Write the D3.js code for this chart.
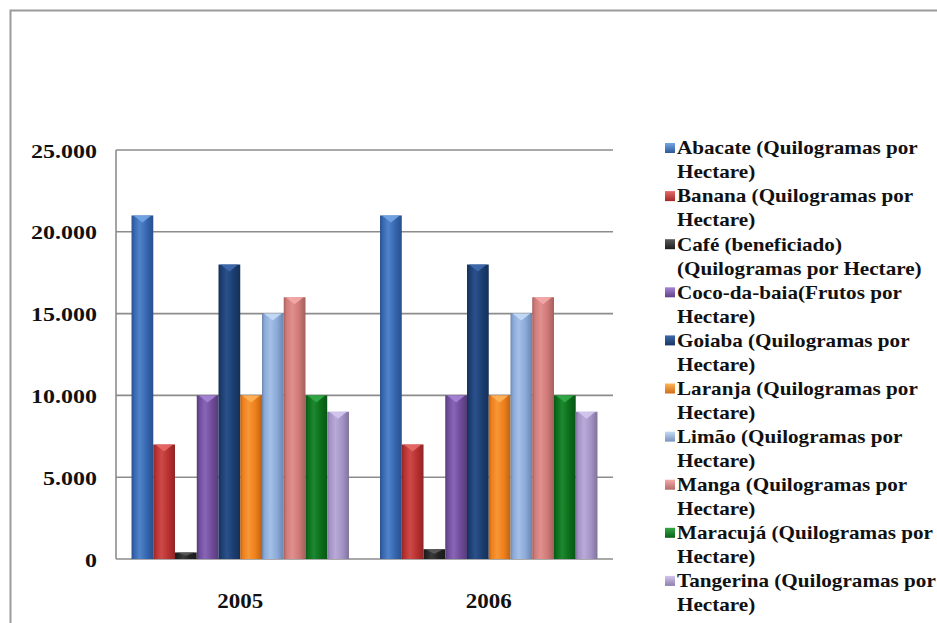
<!DOCTYPE html>
<html>
<head>
<meta charset="utf-8">
<script src="https://cdn.jsdelivr.net/npm/d3@7"></script>
<style>
  body { margin: 0; background: #fff; }
  svg { display: block; }
  text { font-family: "Liberation Serif", "Times New Roman", Times, serif; font-weight: bold; fill: #111; }
</style>
</head>
<body>
<svg id="chart"></svg>
<script>
// data
const years = ["2005", "2006"];
const series = ["Abacate", "Banana", "Café", "Coco-da-baia", "Goiaba", "Laranja", "Limão", "Manga", "Maracujá", "Tangerina"];
const values2005 = [21000, 7000, 400, 10000, 18000, 10000, 15000, 16000, 10000, 9000];
const values2006 = [21000, 7000, 600, 10000, 18000, 10000, 15000, 16000, 10000, 9000];
const yTicks = [0, 5000, 10000, 15000, 20000, 25000];
const legendLines = [
  ["Abacate (Quilogramas por", "Hectare)"],
  ["Banana (Quilogramas por", "Hectare)"],
  ["Café (beneficiado)", "(Quilogramas por Hectare)"],
  ["Coco-da-baia(Frutos por", "Hectare)"],
  ["Goiaba (Quilogramas por", "Hectare)"],
  ["Laranja (Quilogramas por", "Hectare)"],
  ["Limão (Quilogramas por", "Hectare)"],
  ["Manga (Quilogramas por", "Hectare)"],
  ["Maracujá (Quilogramas por", "Hectare)"],
  ["Tangerina (Quilogramas por", "Hectare)"]
];
const baseColors = ["#3566b0", "#b8302f", "#222222", "#6f4c9b", "#1b3d70", "#ef7f1a", "#8aa9d9", "#d07a78", "#0b6e1b", "#a393c6"];
const lightColors = ["#74a6e6", "#e46a68", "#5a5a5a", "#a684d6", "#3f6aae", "#ffb45a", "#c4dbf6", "#f3aaa8", "#34a848", "#d3c6ee"];

const W = 937, H = 623;
const svg = d3.select("#chart").attr("width", W).attr("height", H);

const fmt = d3.formatLocale({ decimal: ",", thousands: ".", grouping: [3], currency: ["R$", ""] }).format(",d");

// squeeze factor so the text width matches the picture
function fitScale(str, size, target) {
  const t = svg.append("text").style("font-size", size + "px").text(str);
  const w = t.node().getComputedTextLength();
  t.remove();
  return target / w;
}

// outer frame
svg.append("rect")
  .attr("x", 10.5).attr("y", 10.5)
  .attr("width", W + 20).attr("height", H + 20)
  .attr("fill", "none").attr("stroke", "#9a9a9a").attr("stroke-width", 2);

const plot = { left: 116, right: 613, top: 150, bottom: 559 };

const x0 = d3.scaleBand().domain(years)
  .range([plot.left, plot.right])
  .paddingInner(0.125).paddingOuter(0.0625);
const x1 = d3.scaleBand().domain(series).range([0, x0.bandwidth()]);
const y = d3.scaleLinear().domain([0, 25000]).range([plot.bottom, plot.top]);

// gradients
const defs = svg.append("defs");
series.forEach((s, i) => {
  const dark = d3.color(baseColors[i]).darker(0.7);
  const g = defs.append("linearGradient").attr("id", "g" + i)
    .attr("x1", "0%").attr("x2", "100%").attr("y1", "0%").attr("y2", "0%");
  g.append("stop").attr("offset", "0%").attr("stop-color", dark);
  g.append("stop").attr("offset", "12%").attr("stop-color", baseColors[i]);
  g.append("stop").attr("offset", "38%").attr("stop-color", d3.interpolateRgb(baseColors[i], lightColors[i])(0.45));
  g.append("stop").attr("offset", "70%").attr("stop-color", baseColors[i]);
  g.append("stop").attr("offset", "100%").attr("stop-color", dark);
});

// gridlines
svg.append("g").selectAll("line").data(yTicks).join("line")
  .attr("x1", plot.left).attr("x2", plot.right)
  .attr("y1", d => y(d)).attr("y2", d => y(d))
  .attr("stroke", "#8c8c8c").attr("stroke-width", 1.6);
svg.append("line")
  .attr("x1", plot.left).attr("x2", plot.left)
  .attr("y1", plot.top).attr("y2", plot.bottom)
  .attr("stroke", "#8c8c8c").attr("stroke-width", 1.6);

// y labels
const ySx = fitScale("25.000", 19, 66);
svg.append("g").selectAll("text").data(yTicks).join("text")
  .attr("transform", d => `translate(97,${y(d) + 1}) scale(${ySx},1)`)
  .attr("text-anchor", "end")
  .attr("dy", "0.35em")
  .style("font-size", "19px")
  .text(d => fmt(d));

// bars
const rows = years.map((yr, k) => ({ year: yr, vals: k === 0 ? values2005 : values2006 }));
const groups = svg.append("g").selectAll("g").data(rows).join("g")
  .attr("transform", d => `translate(${x0(d.year)},0)`);

const bars = groups.selectAll("g.bar")
  .data(d => d.vals.map((v, i) => ({ name: series[i], i, v })))
  .join("g").attr("class", "bar");

bars.append("rect")
  .attr("x", d => x1(d.name))
  .attr("y", d => y(d.v))
  .attr("width", x1.bandwidth())
  .attr("height", d => y(0) - y(d.v))
  .attr("fill", d => `url(#g${d.i})`);

bars.append("path")
  .attr("d", d => {
    const bx = x1(d.name), bw = x1.bandwidth(), t = y(d.v);
    const h = Math.min(7, (y(0) - t) / 2);
    return `M${bx + 2},${t}L${bx + bw - 2},${t}L${bx + bw / 2},${t + h}Z`;
  })
  .attr("fill", d => lightColors[d.i])
  .attr("opacity", 0.9);

// x labels
const xSx = fitScale("2005", 22, 46);
svg.append("g").selectAll("text").data(years).join("text")
  .attr("transform", d => `translate(${x0(d) + x0.bandwidth() / 2},600) scale(${xSx},1)`)
  .attr("dy", "0.35em")
  .attr("text-anchor", "middle")
  .style("font-size", "22px")
  .text(d => d);

// legend
const lineH = 24.05, legTop = 148, swX = 665, txX = 677;
const legSx = fitScale("Abacate (Quilogramas por", 18, 241);
const leg = svg.append("g").selectAll("g").data(legendLines).join("g")
  .attr("transform", (d, i) => `translate(0,${legTop + i * 2 * lineH})`);

const lg = defs.selectAll("linearGradient.sw").data(series).join("linearGradient")
  .attr("class", "sw").attr("id", (d, i) => "s" + i)
  .attr("x1", "0%").attr("x2", "0%").attr("y1", "0%").attr("y2", "100%");
lg.append("stop").attr("offset", "0%").attr("stop-color", (d, i) => lightColors[i]);
lg.append("stop").attr("offset", "100%").attr("stop-color", (d, i) => d3.color(baseColors[i]).darker(0.4));

leg.append("rect")
  .attr("x", swX).attr("y", -5)
  .attr("width", 10).attr("height", 10)
  .attr("fill", (d, i) => `url(#s${i})`);

leg.selectAll("text").data(d => d).join("text")
  .attr("transform", (d, j) => `translate(${txX},${j * lineH}) scale(${legSx},1)`)
  .attr("dy", "0.35em")
  .style("font-size", "18px")
  .text(d => d);
</script>
</body>
</html>
